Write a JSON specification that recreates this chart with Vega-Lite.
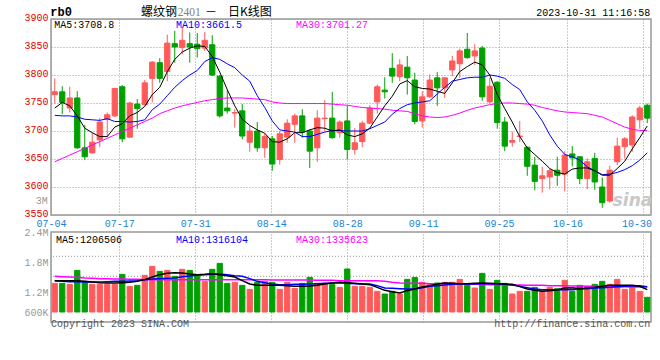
{
  "$schema": "https://vega.github.io/schema/vega-lite/v6.json",
  "background": "#ffffff",
  "padding": {"left": 23, "top": 5, "right": 0, "bottom": 0},
  "autosize": {"type": "pad"},
  "bounds": "flush",
  "spacing": 17,
  "config": {
    "view": {"stroke": "#999999", "strokeWidth": 1.5},
    "axis": {"domain": false, "ticks": false, "labelFont": "Liberation Mono", "labelFontSize": 10, "gridColor": "#999999", "gridDash": [1, 2], "gridWidth": 1, "labelOverlap": false}
  },
  "datasets": {
    "k": [
      {"d":"07-04","o":3765,"h":3794,"l":3749,"c":3770,"v":1373,"v5":1427,"v10":1427,"v30":1513,"m5":3741,"m10":3728,"m30":3645},
      {"d":"07-05","o":3770,"h":3780,"l":3730,"c":3751,"v":1373,"v5":1427,"v10":1413,"v30":1507,"m5":3751,"m10":3727,"m30":3651},
      {"d":"07-06","o":3741,"h":3779,"l":3733,"c":3759,"v":1353,"v5":1427,"v10":1407,"v30":1500,"m5":3745,"m10":3727,"m30":3657},
      {"d":"07-07","o":3759,"h":3771,"l":3668,"c":3670,"v":1633,"v5":1427,"v10":1407,"v30":1493,"m5":3727,"m10":3725,"m30":3663},
      {"d":"07-10","o":3670,"h":3711,"l":3648,"c":3654,"v":1413,"v5":1413,"v10":1400,"v30":1480,"m5":3705,"m10":3721,"m30":3669},
      {"d":"07-11","o":3661,"h":3697,"l":3659,"c":3680,"v":1353,"v5":1400,"v10":1400,"v30":1473,"m5":3697,"m10":3720,"m30":3675},
      {"d":"07-12","o":3684,"h":3723,"l":3671,"c":3716,"v":1353,"v5":1387,"v10":1400,"v30":1467,"m5":3690,"m10":3719,"m30":3681},
      {"d":"07-13","o":3721,"h":3733,"l":3689,"c":3729,"v":1353,"v5":1380,"v10":1407,"v30":1467,"m5":3690,"m10":3722,"m30":3687},
      {"d":"07-14","o":3727,"h":3777,"l":3725,"c":3776,"v":1353,"v5":1380,"v10":1413,"v30":1460,"m5":3707,"m10":3717,"m30":3693},
      {"d":"07-17","o":3779,"h":3782,"l":3680,"c":3686,"v":1553,"v5":1387,"v10":1413,"v30":1460,"m5":3713,"m10":3717,"m30":3699},
      {"d":"07-18","o":3689,"h":3752,"l":3688,"c":3750,"v":1313,"v5":1393,"v10":1420,"v30":1453,"m5":3727,"m10":3716,"m30":3705},
      {"d":"07-19","o":3748,"h":3757,"l":3704,"c":3740,"v":1333,"v5":1413,"v10":1427,"v30":1453,"m5":3733,"m10":3717,"m30":3711},
      {"d":"07-20","o":3747,"h":3791,"l":3746,"c":3786,"v":1533,"v5":1447,"v10":1447,"v30":1447,"m5":3744,"m10":3720,"m30":3717},
      {"d":"07-21","o":3794,"h":3825,"l":3751,"c":3823,"v":1713,"v5":1500,"v10":1460,"v30":1447,"m5":3765,"m10":3738,"m30":3723},
      {"d":"07-24","o":3822,"h":3830,"l":3786,"c":3794,"v":1613,"v5":1547,"v10":1467,"v30":1447,"m5":3778,"m10":3748,"m30":3731},
      {"d":"07-25","o":3806,"h":3872,"l":3789,"c":3857,"v":1633,"v5":1573,"v10":1473,"v30":1447,"m5":3806,"m10":3763,"m30":3736},
      {"d":"07-26","o":3856,"h":3879,"l":3822,"c":3850,"v":1513,"v5":1587,"v10":1480,"v30":1447,"m5":3828,"m10":3778,"m30":3741},
      {"d":"07-27","o":3849,"h":3885,"l":3837,"c":3862,"v":1653,"v5":1580,"v10":1507,"v30":1447,"m5":3841,"m10":3790,"m30":3745},
      {"d":"07-28","o":3856,"h":3876,"l":3822,"c":3850,"v":1633,"v5":1560,"v10":1520,"v30":1447,"m5":3848,"m10":3800,"m30":3748},
      {"d":"07-31","o":3855,"h":3875,"l":3831,"c":3847,"v":1513,"v5":1547,"v10":1533,"v30":1447,"m5":3852,"m10":3808,"m30":3751},
      {"d":"08-01","o":3848,"h":3877,"l":3843,"c":3862,"v":1413,"v5":1553,"v10":1547,"v30":1447,"m5":3851,"m10":3824,"m30":3754},
      {"d":"08-02","o":3854,"h":3871,"l":3798,"c":3800,"v":1653,"v5":1567,"v10":1553,"v30":1447,"m5":3833,"m10":3831,"m30":3756},
      {"d":"08-03","o":3798,"h":3800,"l":3724,"c":3727,"v":1773,"v5":1547,"v10":1560,"v30":1447,"m5":3805,"m10":3828,"m30":3758},
      {"d":"08-04","o":3741,"h":3774,"l":3731,"c":3736,"v":1373,"v5":1527,"v10":1547,"v30":1447,"m5":3774,"m10":3820,"m30":3759},
      {"d":"08-07","o":3732,"h":3739,"l":3706,"c":3733,"v":1393,"v5":1500,"v10":1527,"v30":1447,"m5":3745,"m10":3813,"m30":3759},
      {"d":"08-08","o":3736,"h":3748,"l":3685,"c":3691,"v":1333,"v5":1427,"v10":1513,"v30":1447,"m5":3721,"m10":3800,"m30":3759},
      {"d":"08-09","o":3680,"h":3709,"l":3663,"c":3700,"v":1253,"v5":1360,"v10":1467,"v30":1447,"m5":3710,"m10":3789,"m30":3758},
      {"d":"08-10","o":3700,"h":3716,"l":3663,"c":3670,"v":1393,"v5":1333,"v10":1413,"v30":1447,"m5":3702,"m10":3763,"m30":3757},
      {"d":"08-11","o":3670,"h":3695,"l":3652,"c":3690,"v":1413,"v5":1333,"v10":1387,"v30":1447,"m5":3696,"m10":3742,"m30":3756},
      {"d":"08-14","o":3686,"h":3691,"l":3629,"c":3641,"v":1393,"v5":1333,"v10":1360,"v30":1440,"m5":3681,"m10":3718,"m30":3752},
      {"d":"08-15","o":3649,"h":3700,"l":3640,"c":3695,"v":1253,"v5":1333,"v10":1347,"v30":1440,"m5":3680,"m10":3702,"m30":3750},
      {"d":"08-16","o":3689,"h":3721,"l":3679,"c":3714,"v":1393,"v5":1327,"v10":1347,"v30":1440,"m5":3686,"m10":3700,"m30":3749},
      {"d":"08-17","o":3712,"h":3731,"l":3679,"c":3727,"v":1273,"v5":1313,"v10":1353,"v30":1440,"m5":3697,"m10":3698,"m30":3749},
      {"d":"08-18","o":3727,"h":3739,"l":3688,"c":3698,"v":1373,"v5":1313,"v10":1353,"v30":1440,"m5":3697,"m10":3690,"m30":3749},
      {"d":"08-21","o":3700,"h":3703,"l":3634,"c":3664,"v":1493,"v5":1320,"v10":1360,"v30":1440,"m5":3702,"m10":3690,"m30":3749},
      {"d":"08-22","o":3670,"h":3737,"l":3645,"c":3723,"v":1373,"v5":1333,"v10":1367,"v30":1433,"m5":3706,"m10":3694,"m30":3749},
      {"d":"08-23","o":3722,"h":3755,"l":3700,"c":3723,"v":1373,"v5":1360,"v10":1373,"v30":1433,"m5":3705,"m10":3698,"m30":3749},
      {"d":"08-24","o":3723,"h":3770,"l":3686,"c":3688,"v":1347,"v5":1380,"v10":1380,"v30":1433,"m5":3700,"m10":3701,"m30":3748},
      {"d":"08-25","o":3697,"h":3719,"l":3688,"c":3716,"v":1293,"v5":1393,"v10":1380,"v30":1427,"m5":3702,"m10":3701,"m30":3747},
      {"d":"08-28","o":3718,"h":3745,"l":3649,"c":3667,"v":1660,"v5":1387,"v10":1373,"v30":1427,"m5":3693,"m10":3700,"m30":3746},
      {"d":"08-29","o":3667,"h":3705,"l":3658,"c":3679,"v":1313,"v5":1373,"v10":1367,"v30":1427,"m5":3690,"m10":3700,"m30":3744},
      {"d":"08-30","o":3681,"h":3718,"l":3671,"c":3714,"v":1313,"v5":1360,"v10":1360,"v30":1427,"m5":3695,"m10":3700,"m30":3742},
      {"d":"08-31","o":3714,"h":3746,"l":3712,"c":3741,"v":1293,"v5":1347,"v10":1360,"v30":1427,"m5":3705,"m10":3704,"m30":3741},
      {"d":"09-01","o":3752,"h":3783,"l":3731,"c":3779,"v":1213,"v5":1293,"v10":1327,"v30":1427,"m5":3725,"m10":3710,"m30":3740},
      {"d":"09-04","o":3773,"h":3796,"l":3758,"c":3770,"v":1160,"v5":1233,"v10":1280,"v30":1413,"m5":3745,"m10":3716,"m30":3739},
      {"d":"09-05","o":3812,"h":3839,"l":3786,"c":3798,"v":1213,"v5":1207,"v10":1273,"v30":1393,"m5":3762,"m10":3730,"m30":3737},
      {"d":"09-06","o":3797,"h":3828,"l":3789,"c":3818,"v":1160,"v5":1180,"v10":1267,"v30":1380,"m5":3784,"m10":3740,"m30":3736},
      {"d":"09-07","o":3814,"h":3834,"l":3765,"c":3795,"v":1453,"v5":1227,"v10":1260,"v30":1373,"m5":3790,"m10":3747,"m30":3735},
      {"d":"09-08","o":3791,"h":3804,"l":3712,"c":3717,"v":1493,"v5":1260,"v10":1260,"v30":1373,"m5":3779,"m10":3750,"m30":3731},
      {"d":"09-11","o":3718,"h":3771,"l":3706,"c":3761,"v":1393,"v5":1300,"v10":1287,"v30":1373,"m5":3776,"m10":3752,"m30":3727},
      {"d":"09-12","o":3761,"h":3801,"l":3759,"c":3791,"v":1347,"v5":1327,"v10":1313,"v30":1367,"m5":3775,"m10":3754,"m30":3725},
      {"d":"09-13","o":3795,"h":3805,"l":3745,"c":3777,"v":1380,"v5":1360,"v10":1327,"v30":1367,"m5":3771,"m10":3766,"m30":3724},
      {"d":"09-14","o":3777,"h":3795,"l":3759,"c":3795,"v":1393,"v5":1380,"v10":1340,"v30":1367,"m5":3767,"m10":3778,"m30":3725},
      {"d":"09-15","o":3809,"h":3834,"l":3798,"c":3825,"v":1393,"v5":1373,"v10":1353,"v30":1367,"m5":3786,"m10":3789,"m30":3728},
      {"d":"09-18","o":3820,"h":3847,"l":3795,"c":3843,"v":1453,"v5":1367,"v10":1360,"v30":1367,"m5":3806,"m10":3792,"m30":3732},
      {"d":"09-19","o":3846,"h":3875,"l":3829,"c":3831,"v":1333,"v5":1367,"v10":1360,"v30":1367,"m5":3815,"m10":3795,"m30":3737},
      {"d":"09-20","o":3834,"h":3855,"l":3818,"c":3843,"v":1280,"v5":1373,"v10":1360,"v30":1353,"m5":3823,"m10":3796,"m30":3741},
      {"d":"09-21","o":3848,"h":3852,"l":3754,"c":3761,"v":1573,"v5":1380,"v10":1367,"v30":1353,"m5":3818,"m10":3796,"m30":3744},
      {"d":"09-22","o":3752,"h":3795,"l":3749,"c":3780,"v":1253,"v5":1373,"v10":1367,"v30":1347,"m5":3800,"m10":3800,"m30":3747},
      {"d":"09-25","o":3787,"h":3789,"l":3704,"c":3715,"v":1433,"v5":1367,"v10":1367,"v30":1347,"m5":3765,"m10":3798,"m30":3749},
      {"d":"09-26","o":3716,"h":3725,"l":3664,"c":3673,"v":1373,"v5":1360,"v10":1353,"v30":1347,"m5":3740,"m10":3794,"m30":3750},
      {"d":"09-27","o":3680,"h":3699,"l":3672,"c":3683,"v":1160,"v5":1353,"v10":1340,"v30":1340,"m5":3716,"m10":3783,"m30":3750},
      {"d":"09-28","o":3690,"h":3718,"l":3680,"c":3691,"v":1213,"v5":1307,"v10":1313,"v30":1340,"m5":3690,"m10":3774,"m30":3749},
      {"d":"10-09","o":3671,"h":3672,"l":3620,"c":3637,"v":1213,"v5":1260,"v10":1287,"v30":1333,"m5":3670,"m10":3752,"m30":3748},
      {"d":"10-10","o":3639,"h":3654,"l":3594,"c":3610,"v":1293,"v5":1233,"v10":1260,"v30":1333,"m5":3658,"m10":3737,"m30":3746},
      {"d":"10-11","o":3615,"h":3636,"l":3590,"c":3620,"v":1213,"v5":1213,"v10":1247,"v30":1333,"m5":3646,"m10":3718,"m30":3742},
      {"d":"10-12","o":3618,"h":3633,"l":3596,"c":3629,"v":1293,"v5":1227,"v10":1247,"v30":1327,"m5":3633,"m10":3693,"m30":3739},
      {"d":"10-13","o":3630,"h":3654,"l":3602,"c":3621,"v":1267,"v5":1240,"v10":1247,"v30":1327,"m5":3626,"m10":3673,"m30":3736},
      {"d":"10-16","o":3623,"h":3664,"l":3592,"c":3657,"v":1433,"v5":1280,"v10":1247,"v30":1327,"m5":3623,"m10":3658,"m30":3734},
      {"d":"10-17","o":3659,"h":3673,"l":3637,"c":3652,"v":1213,"v5":1287,"v10":1247,"v30":1320,"m5":3632,"m10":3654,"m30":3733},
      {"d":"10-18","o":3654,"h":3654,"l":3605,"c":3615,"v":1333,"v5":1267,"v10":1260,"v30":1320,"m5":3634,"m10":3648,"m30":3732},
      {"d":"10-19","o":3615,"h":3651,"l":3596,"c":3645,"v":1313,"v5":1280,"v10":1267,"v30":1313,"m5":3634,"m10":3636,"m30":3731},
      {"d":"10-20","o":3651,"h":3661,"l":3595,"c":3609,"v":1353,"v5":1293,"v10":1280,"v30":1313,"m5":3629,"m10":3629,"m30":3728},
      {"d":"10-23","o":3600,"h":3617,"l":3563,"c":3572,"v":1413,"v5":1313,"v10":1287,"v30":1313,"m5":3621,"m10":3622,"m30":3725},
      {"d":"10-24","o":3575,"h":3638,"l":3572,"c":3630,"v":1353,"v5":1333,"v10":1293,"v30":1307,"m5":3621,"m10":3623,"m30":3719},
      {"d":"10-25","o":3645,"h":3688,"l":3639,"c":3673,"v":1453,"v5":1333,"v10":1307,"v30":1307,"m5":3633,"m10":3626,"m30":3713},
      {"d":"10-26","o":3672,"h":3689,"l":3651,"c":3686,"v":1253,"v5":1333,"v10":1313,"v30":1307,"m5":3646,"m10":3631,"m30":3707},
      {"d":"10-27","o":3675,"h":3728,"l":3663,"c":3725,"v":1313,"v5":1333,"v10":1320,"v30":1300,"m5":3668,"m10":3638,"m30":3703},
      {"d":"10-30","o":3720,"h":3745,"l":3704,"c":3741,"v":1213,"v5":1313,"v10":1327,"v30":1300,"m5":3688,"m10":3648,"m30":3701},
      {"d":"10-31","o":3746,"h":3749,"l":3714,"c":3723,"v":1093,"v5":1247,"v10":1307,"v30":1300,"m5":3709,"m10":3661,"m30":3701}
    ]
  },
  "vconcat": [
    {
      "width": 600,
      "height": 196,
      "data": {"name": "k"},
      "transform": [{"calculate": "datum.c >= datum.o ? 'up' : 'down'", "as": "dir"}],
      "resolve": {"scale": {"x": "independent"}},
      "layer": [
        {
          "mark": {"type": "tick", "opacity": 0},
          "encoding": {
            "x": {
              "field": "d", "type": "ordinal",
              "scale": {"type": "point", "padding": 0},
              "axis": {
                "orient": "bottom", "title": null, "labelOverlap": false,
                "values": ["07-04", "07-17", "07-31", "08-14", "08-28", "09-11", "09-25", "10-16", "10-30"],
                "grid": true, "labelAngle": 0, "labelColor": "#1a82d6", "labelPadding": 3,
                "labelOffset": {"condition": {"test": "datum.value == '10-30'", "value": -7}, "value": 0}
              }
            }
          }
        },
        {
          "encoding": {
            "x": {"field": "d", "type": "ordinal", "scale": {"type": "band", "paddingInner": 0.3, "paddingOuter": 0.15}, "axis": null}
          },
          "layer": [
            {
              "mark": {"type": "rule", "strokeWidth": 1},
              "encoding": {
                "y": {"field": "l", "type": "quantitative", "scale": {"domain": [3550, 3900], "nice": false, "zero": false},
                  "axis": {"title": null, "values": [3550, 3600, 3650, 3700, 3750, 3800, 3850, 3900], "tickCount": 20, "format": "d", "labelOverlap": false, "labelColor": "#e00000", "labelPadding": 3, "labelOffset": -2, "grid": true}},
                "y2": {"field": "h"},
                "color": {"field": "dir", "type": "nominal", "scale": {"domain": ["up", "down"], "range": ["#ff5a5a", "#00a000"]}, "legend": null}
              }
            },
            {
              "mark": {"type": "bar", "strokeWidth": 1},
              "encoding": {
                "y": {"field": "o", "type": "quantitative", "scale": {"domain": [3550, 3900], "nice": false, "zero": false}, "axis": {"title": null, "tickCount": 20}},
                "y2": {"field": "c"},
                "color": {"field": "dir", "type": "nominal", "scale": {"domain": ["up", "down"], "range": ["#ff5a5a", "#00a000"]}, "legend": null},
                "stroke": {"field": "dir", "type": "nominal", "scale": {"domain": ["up", "down"], "range": ["#ff5a5a", "#00a000"]}, "legend": null}
              }
            },
            {
              "mark": {"type": "line", "color": "#ff00ff", "strokeWidth": 1},
              "encoding": {"y": {"field": "m30", "type": "quantitative", "scale": {"domain": [3550, 3900], "nice": false, "zero": false}, "axis": {"title": null, "tickCount": 20}}}
            },
            {
              "mark": {"type": "line", "color": "#0000ff", "strokeWidth": 1},
              "encoding": {"y": {"field": "m10", "type": "quantitative", "scale": {"domain": [3550, 3900], "nice": false, "zero": false}, "axis": {"title": null, "tickCount": 20}}}
            },
            {
              "mark": {"type": "line", "color": "#000000", "strokeWidth": 1},
              "encoding": {"y": {"field": "m5", "type": "quantitative", "scale": {"domain": [3550, 3900], "nice": false, "zero": false}, "axis": {"title": null, "tickCount": 20}}}
            },
            {
              "data": {"values": [{}]},
              "mark": {"type": "text", "text": "rb0", "align": "left", "baseline": "alphabetic", "dx": -4.5, "font": "Liberation Mono", "fontSize": 12, "fontWeight": "bold", "color": "#000000"},
              "encoding": {"x": {"datum": "07-04", "type": "ordinal"}, "y": {"datum": 3905.4, "type": "quantitative"}}
            },
            {
              "data": {"values": [{}]},
              "mark": {"type": "text", "text": "螺纹钢", "align": "left", "baseline": "alphabetic", "dx": 3.75, "font": "Noto Sans CJK SC", "fontSize": 12, "color": "#000000"},
              "encoding": {"x": {"datum": "07-19", "type": "ordinal"}, "y": {"datum": 3905.4, "type": "quantitative"}}
            },
            {
              "data": {"values": [{}]},
              "mark": {"type": "text", "text": "2401", "align": "left", "baseline": "alphabetic", "dx": 3, "font": "Liberation Serif", "fontSize": 11.5, "color": "#808080"},
              "encoding": {"x": {"datum": "07-26", "type": "ordinal"}, "y": {"datum": 3905.4, "type": "quantitative"}}
            },
            {
              "data": {"values": [{}]},
              "mark": {"type": "text", "text": "－", "align": "center", "baseline": "alphabetic", "dx": -1.25, "font": "Noto Sans CJK SC", "fontSize": 12, "color": "#000000"},
              "encoding": {"x": {"datum": "08-02", "type": "ordinal"}, "y": {"datum": 3905.4, "type": "quantitative"}}
            },
            {
              "data": {"values": [{}]},
              "mark": {"type": "text", "text": "日K线图", "align": "left", "baseline": "alphabetic", "dx": 0.75, "font": "Noto Sans CJK SC", "fontSize": 12, "color": "#000000"},
              "encoding": {"x": {"datum": "08-04", "type": "ordinal"}, "y": {"datum": 3905.4, "type": "quantitative"}}
            },
            {
              "data": {"values": [{}]},
              "mark": {"type": "text", "text": "2023-10-31 11:16:58", "align": "right", "baseline": "alphabetic", "dx": 3, "font": "Liberation Mono", "fontSize": 10, "color": "#000000"},
              "encoding": {"x": {"datum": "10-31", "type": "ordinal"}, "y": {"datum": 3905.4, "type": "quantitative"}}
            },
            {
              "data": {"values": [{}]},
              "mark": {"type": "text", "text": "MA5:3708.8", "align": "left", "baseline": "alphabetic", "dx": -0.5, "font": "Liberation Mono", "fontSize": 10, "color": "#000000"},
              "encoding": {"x": {"datum": "07-04", "type": "ordinal"}, "y": {"datum": 3883.4, "type": "quantitative"}}
            },
            {
              "data": {"values": [{}]},
              "mark": {"type": "text", "text": "MA10:3661.5", "align": "left", "baseline": "alphabetic", "dx": 1.25, "font": "Liberation Mono", "fontSize": 10, "color": "#0000ff"},
              "encoding": {"x": {"datum": "07-26", "type": "ordinal"}, "y": {"datum": 3883.4, "type": "quantitative"}}
            },
            {
              "data": {"values": [{}]},
              "mark": {"type": "text", "text": "MA30:3701.27", "align": "left", "baseline": "alphabetic", "dx": 1.25, "font": "Liberation Mono", "fontSize": 10, "color": "#ff00ff"},
              "encoding": {"x": {"datum": "08-17", "type": "ordinal"}, "y": {"datum": 3883.4, "type": "quantitative"}}
            },
            {
              "data": {"values": [{}]},
              "mark": {"type": "text", "text": "3M", "align": "right", "baseline": "alphabetic", "dx": -7, "font": "Liberation Mono", "fontSize": 10, "color": "#999999"},
              "encoding": {"x": {"datum": "07-04", "type": "ordinal"}, "y": {"datum": 3569, "type": "quantitative"}}
            },
            {
              "data": {"values": [{}]},
              "mark": {"type": "text", "text": "sina", "align": "right", "baseline": "alphabetic", "dx": 5, "font": "DejaVu Sans", "fontSize": 17, "fontWeight": "bold", "fontStyle": "italic", "color": "#c8c8c8"},
              "encoding": {"x": {"datum": "10-31", "type": "ordinal"}, "y": {"datum": 3566, "type": "quantitative"}}
            }
          ]
        }
      ]
    },
    {
      "width": 600,
      "height": 90,
      "data": {"name": "k"},
      "transform": [{"calculate": "datum.c >= datum.o ? 'up' : 'down'", "as": "dir"}],
      "resolve": {"scale": {"x": "independent"}},
      "layer": [
        {
          "mark": {"type": "tick", "opacity": 0},
          "encoding": {
            "x": {
              "field": "d", "type": "ordinal",
              "scale": {"type": "point", "padding": 0},
              "axis": {
                "orient": "bottom", "title": null, "labels": false,
                "values": ["07-04", "07-17", "07-31", "08-14", "08-28", "09-11", "09-25", "10-16", "10-30"],
                "grid": true
              }
            }
          }
        },
        {
          "data": {"values": [{}]},
          "mark": {"type": "rule", "color": "#999999", "strokeDash": [1, 2], "strokeWidth": 1},
          "encoding": {"y": {"datum": 1914, "type": "quantitative", "scale": {"domain": [600, 2400], "nice": false, "zero": false}, "axis": {"title": null, "tickCount": 20}}}
        },
        {
          "data": {"values": [{}]},
          "mark": {"type": "rule", "color": "#999999", "strokeDash": [1, 2], "strokeWidth": 1},
          "encoding": {"y": {"datum": 1514, "type": "quantitative", "scale": {"domain": [600, 2400], "nice": false, "zero": false}, "axis": {"title": null, "tickCount": 20}}}
        },
        {
          "data": {"values": [{}]},
          "mark": {"type": "rule", "color": "#999999", "strokeDash": [1, 2], "strokeWidth": 1},
          "encoding": {"y": {"datum": 1094, "type": "quantitative", "scale": {"domain": [600, 2400], "nice": false, "zero": false}, "axis": {"title": null, "tickCount": 20}}}
        },
        {
          "encoding": {
            "x": {"field": "d", "type": "ordinal", "scale": {"type": "band", "paddingInner": 0.3, "paddingOuter": 0.15}, "axis": null}
          },
          "layer": [
            {
              "mark": {"type": "bar", "strokeWidth": 1},
              "encoding": {
                "y": {"field": "v", "type": "quantitative", "scale": {"domain": [600, 2400], "nice": false, "zero": false},
                  "axis": {"title": null, "values": [600, 1200, 1800, 2400], "tickCount": 20, "grid": false, "labelOverlap": false, "labelColor": "#999999", "labelPadding": 3,
                    "labelExpr": "datum.value >= 1000 ? format(datum.value / 1000, '.1f') + 'M' : datum.value + 'K'",
                    "labelOffset": {"condition": {"test": "datum.value == 600", "value": -10}, "value": 0}}},
                "y2": {"datum": 800},
                "color": {"field": "dir", "type": "nominal", "scale": {"domain": ["up", "down"], "range": ["#ff5a5a", "#00a000"]}, "legend": null},
                "stroke": {"field": "dir", "type": "nominal", "scale": {"domain": ["up", "down"], "range": ["#ff5a5a", "#00a000"]}, "legend": null}
              }
            },
            {
              "mark": {"type": "line", "color": "#ff00ff", "strokeWidth": 1.5},
              "encoding": {"y": {"field": "v30", "type": "quantitative", "scale": {"domain": [600, 2400], "nice": false, "zero": false}, "axis": {"title": null, "tickCount": 20}}}
            },
            {
              "mark": {"type": "line", "color": "#0000ff", "strokeWidth": 1.5},
              "encoding": {"y": {"field": "v10", "type": "quantitative", "scale": {"domain": [600, 2400], "nice": false, "zero": false}, "axis": {"title": null, "tickCount": 20}}}
            },
            {
              "mark": {"type": "line", "color": "#000000", "strokeWidth": 1.5},
              "encoding": {"y": {"field": "v5", "type": "quantitative", "scale": {"domain": [600, 2400], "nice": false, "zero": false}, "axis": {"title": null, "tickCount": 20}}}
            },
            {
              "data": {"values": [{}]},
              "mark": {"type": "text", "text": "MA5:1206506", "align": "left", "baseline": "alphabetic", "dx": 1.25, "font": "Liberation Mono", "fontSize": 10, "color": "#000000"},
              "encoding": {"x": {"datum": "07-04", "type": "ordinal"}, "y": {"datum": 2180, "type": "quantitative"}}
            },
            {
              "data": {"values": [{}]},
              "mark": {"type": "text", "text": "MA10:1316104", "align": "left", "baseline": "alphabetic", "dx": 1.25, "font": "Liberation Mono", "fontSize": 10, "color": "#0000ff"},
              "encoding": {"x": {"datum": "07-26", "type": "ordinal"}, "y": {"datum": 2180, "type": "quantitative"}}
            },
            {
              "data": {"values": [{}]},
              "mark": {"type": "text", "text": "MA30:1335623", "align": "left", "baseline": "alphabetic", "dx": 1.25, "font": "Liberation Mono", "fontSize": 10, "color": "#ff00ff"},
              "encoding": {"x": {"datum": "08-17", "type": "ordinal"}, "y": {"datum": 2180, "type": "quantitative"}}
            },
            {
              "data": {"values": [{}]},
              "mark": {"type": "text", "text": "Copyright 2023 SINA.COM", "align": "left", "baseline": "alphabetic", "dx": -3.75, "font": "Liberation Mono", "fontSize": 10, "color": "#555555"},
              "encoding": {"x": {"datum": "07-04", "type": "ordinal"}, "y": {"datum": 494, "type": "quantitative"}}
            },
            {
              "data": {"values": [{}]},
              "mark": {"type": "text", "text": "http://finance.sina.com.cn", "align": "right", "baseline": "alphabetic", "dx": 3, "font": "Liberation Mono", "fontSize": 10, "color": "#555555"},
              "encoding": {"x": {"datum": "10-31", "type": "ordinal"}, "y": {"datum": 494, "type": "quantitative"}}
            }
          ]
        }
      ]
    }
  ]
}
